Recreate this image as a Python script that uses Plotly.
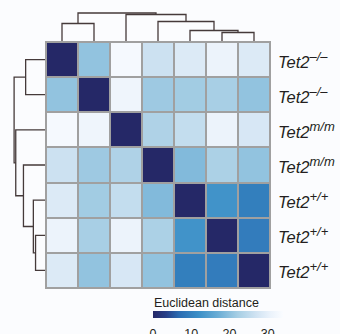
import plotly.graph_objects as go

# ---- data ----
row_base = ["Tet2"] * 7
row_sup = ["–/–", "–/–", "m/m", "m/m", "+/+", "+/+", "+/+"]
dist = [
    [0.0, 20.4, 33.0, 26.5, 28.6, 31.0, 28.6],
    [20.4, 0.0, 31.6, 21.4, 21.8, 22.3, 20.4],
    [33.0, 31.6, 0.0, 23.1, 25.5, 31.0, 27.9],
    [26.5, 21.4, 23.1, 0.0, 19.0, 22.8, 20.4],
    [28.6, 21.8, 25.5, 19.0, 0.0, 12.6, 9.5],
    [31.0, 22.3, 31.0, 22.8, 12.6, 0.0, 9.2],
    [28.6, 20.4, 27.9, 20.4, 9.5, 9.2, 0.0],
]
# linkage: (cluster a, cluster b, height); new clusters numbered from 7
linkage = [(5, 6, 9.5), (4, 7, 11.5), (3, 8, 20.5), (0, 1, 18.5), (2, 9, 27.5), (10, 11, 29.0)]
cbar_ticks = [0, 10, 20, 30]

W, H = 340, 334
n = len(dist)
BG = "#fbfcfe"

colorscale = [
    [0.0, "#252867"], [0.1, "#273f88"], [0.2, "#2b6cb2"], [0.35, "#3b8fc7"],
    [0.5, "#6aadd5"], [0.65, "#a6cee4"], [0.8, "#d2e4f3"], [0.9, "#eaf2fb"], [1.0, "#fafcff"],
]

fig = go.Figure()
fig.add_trace(go.Heatmap(
    z=dist, x=list(range(n)), y=list(range(n)),
    zmin=0, zmax=34, colorscale=colorscale, xgap=2, ygap=2,
    xaxis="x", yaxis="y", hoverinfo="skip",
    colorbar=dict(orientation="h", thicknessmode="pixels", thickness=7,
                  lenmode="pixels", len=130, x=153 / W, xanchor="left",
                  y=1 - 311 / H, yanchor="top", xpad=0, ypad=0,
                  outlinewidth=0, tickvals=cbar_ticks, ticks="outside", ticklen=5,
                  tickcolor="rgba(0,0,0,0)",
                  tickfont=dict(size=12.5, color="#231f20", family="Liberation Sans")),
))

# dendrogram coordinates from linkage
pos = {i: float(i) for i in range(n)}
hgt = {i: 0.0 for i in range(n)}
segs = []
for k, (a, b, h) in enumerate(linkage):
    segs.append(([pos[a], pos[a], pos[b], pos[b]], [hgt[a], h, h, hgt[b]]))
    pos[n + k] = (pos[a] + pos[b]) / 2
    hgt[n + k] = h

lc = dict(color="#453a3a", width=1.3)
for xs, hs in segs:
    fig.add_trace(go.Scatter(x=xs, y=hs, mode="lines", line=lc, xaxis="x2", yaxis="y2",
                             hoverinfo="skip", showlegend=False))
    fig.add_trace(go.Scatter(x=hs, y=xs, mode="lines", line=lc, xaxis="x3", yaxis="y",
                             hoverinfo="skip", showlegend=False))

hx0, hx1 = 46 / W, 270 / W
hy0, hy1 = 1 - 288 / H, 1 - 42 / H
hide = dict(showgrid=False, zeroline=False, showticklabels=False, ticks="", showline=False)
fig.update_layout(
    width=W, height=H, margin=dict(l=0, r=0, t=0, b=0, autoexpand=False),
    paper_bgcolor=BG, plot_bgcolor=BG, showlegend=False,
    xaxis=dict(domain=[hx0, hx1], range=[-0.5, n - 0.5], anchor="y", **hide),
    yaxis=dict(domain=[hy0, hy1], range=[n - 0.5, -0.5], anchor="x", **hide),
    xaxis2=dict(domain=[hx0, hx1], range=[-0.5, n - 0.5], anchor="y2", **hide),
    yaxis2=dict(domain=[hy1, 1], range=[0, 42], anchor="x2", **hide),
    xaxis3=dict(domain=[0, hx0], range=[46 / 1.1, 0], anchor="y", **hide),
)
# grid-line colour behind the cells and outer frame
fig.add_shape(type="rect", xref="x domain", yref="y domain", x0=0, x1=1, y0=0, y1=1,
              line=dict(width=0), fillcolor="#a0a0a0", layer="below")
fig.add_shape(type="rect", xref="x domain", yref="y domain", x0=0, x1=1, y0=0, y1=1,
              line=dict(color="#a0a0a0", width=2), layer="above")

for i, (b, s) in enumerate(zip(row_base, row_sup)):
    fig.add_annotation(x=276 / W, xref="paper", y=i, yref="y", xanchor="left", yanchor="middle",
                       text="<i>" + b + "<sup><span style='font-size:13px'>" + s + "</span></sup></i>",
                       showarrow=False,
                       font=dict(family="Liberation Sans", size=16.5, color="#231f20"))
fig.add_annotation(x=152 / W, xref="paper", y=1 - 312 / H, yref="paper", xanchor="left",
                   yanchor="bottom", text="Euclidean distance", showarrow=False,
                   font=dict(family="Liberation Sans", size=12.5, color="#231f20"))

fig.write_html("out.html", config={"displayModeBar": False},
               post_script="document.body.style.margin='0';")
